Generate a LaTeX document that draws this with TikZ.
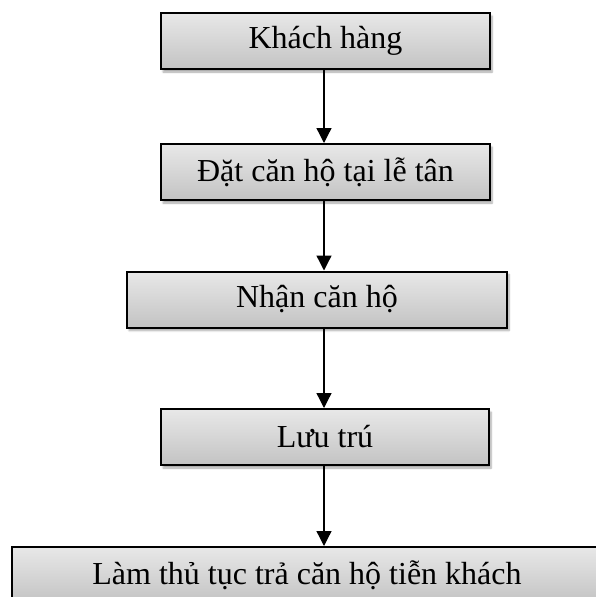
\documentclass[tikz,border=0pt]{standalone}
\usepackage{fontspec}
\setmainfont{Liberation Serif}
\usetikzlibrary{arrows.meta,shadows.blur}
\begin{document}
\begin{tikzpicture}[x=1pt,y=-1pt,
 box/.style={draw=black, line width=2pt, top color=gray!18, bottom color=gray!47,
   blur shadow={shadow xshift=2pt, shadow yshift=-3pt, shadow blur steps=6, shadow opacity=35},
   inner sep=0pt, minimum height=56pt, font=\fontsize{32}{38}\selectfont},
 arr/.style={line width=1.3pt, -{Triangle[length=15pt,width=15pt]}}]
\useasboundingbox (0,0) rectangle (595,597);
\node[box, minimum width=329pt] (a) at (325.5,41) {Khách hàng};
\node[box, minimum width=329pt] (b) at (325.5,172) {Đặt căn hộ tại lễ tân};
\node[box, minimum width=380pt] (c) at (317,299.5) {Nhận căn hộ};
\node[box, minimum width=328pt] (d) at (325,437) {Lưu trú};
\node[box, minimum width=590pt] (e) at (307,575) {Làm thủ tục trả căn hộ tiễn khách};
\coordinate (ax) at (324,0);
\draw[arr] (a.south -| ax) -- (b.north -| ax);
\draw[arr] (b.south -| ax) -- (c.north -| ax);
\draw[arr] (c.south -| ax) -- (d.north -| ax);
\draw[arr] (d.south -| ax) -- (e.north -| ax);
\end{tikzpicture}
\end{document}
